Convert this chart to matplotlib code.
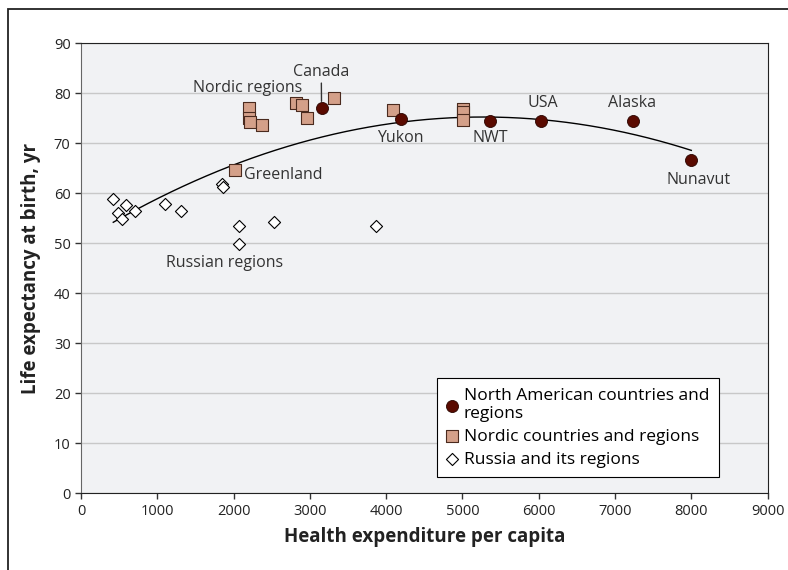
import matplotlib.pyplot as plt
import matplotlib.patches as patches
import numpy as np

plt.rcParams['font.family'] = ['Open Sans', 'DejaVu Sans']

# North American countries and regions
na_names = ['Canada', 'Yukon', 'NWT', 'USA', 'Alaska', 'Nunavut']
na_x = [3153, 4192, 5358, 6036, 7236, 8001]
na_y = [77.1, 74.8, 74.5, 74.5, 74.5, 66.6]

# Nordic countries and regions
nordic_x = [2197, 2197, 2218, 2367, 2817, 2891, 2965, 3323, 4092, 5009, 5009, 5009, 2022]
nordic_y = [77.0, 75.0, 74.3, 73.7, 78.0, 77.6, 75.0, 79.0, 76.6, 76.8, 76.2, 74.6, 64.7]

# Russia and its regions
russia_x = [423, 590, 481, 541, 711, 1097, 1306, 1843, 1856, 2074, 2066, 2528, 3865]
russia_y = [58.8, 57.7, 56.0, 54.9, 56.5, 57.9, 56.5, 61.8, 61.2, 53.5, 49.8, 54.2, 53.4]

x_ticks = [0, 1000, 2000, 3000, 4000, 5000, 6000, 7000, 8000, 9000]
y_ticks = [0, 10, 20, 30, 40, 50, 60, 70, 80, 90]

fig = plt.figure(figsize=(7.88, 5.7), dpi=100)
ax = fig.add_axes([81/788, 1-493.3/570, 686.5/788, 450/570])
ax.set_facecolor('#f1f2f4')

# outer frame (only top and left edges show)
fig.patches.append(patches.Rectangle((8/788, -0.1), 1.2, 1-9/570+0.1,
                                     transform=fig.transFigure, fill=False,
                                     edgecolor='#222222', linewidth=1.3))

ax.grid(axis='y', color='#c8c8c8', linewidth=1)
ax.set_axisbelow(True)

# polynomial trend line through all points
all_x = np.array(na_x + nordic_x + russia_x)
all_y = np.array(na_y + nordic_y + russia_y)
coef = np.polyfit(all_x, all_y, 2)
tx = np.linspace(all_x.min(), all_x.max(), 200)
ax.plot(tx, np.polyval(coef, tx), color='black', linewidth=1, zorder=2)

ax.scatter(russia_x, russia_y, marker='D', s=38, facecolor='white',
           edgecolor='black', linewidth=0.8, zorder=3, label='Russia and its regions')
ax.scatter(nordic_x, nordic_y, marker='s', s=80, facecolor='#d4a089',
           edgecolor='#4a2a1e', linewidth=0.8, zorder=3, label='Nordic countries and regions')
ax.scatter(na_x, na_y, marker='o', s=75, facecolor='#5a0a00',
           edgecolor='#2a0500', linewidth=0.6, zorder=4,
           label='North American countries and\nregions')

fs = 11.5
tc = '#333333'
ax.annotate('Canada', xy=(3153, 78.4), xytext=(3150, 82.6), ha='center', va='bottom',
            fontsize=fs, color=tc,
            arrowprops=dict(arrowstyle='-', color=tc, linewidth=1,
                            shrinkA=0, shrinkB=0))
ax.text(2188, 81.1, 'Nordic regions', ha='center', va='center', fontsize=fs, color=tc)
ax.text(4192, 71.1, 'Yukon', ha='center', va='center', fontsize=fs, color=tc)
ax.text(5371, 71.1, 'NWT', ha='center', va='center', fontsize=fs, color=tc)
ax.text(6053, 78.1, 'USA', ha='center', va='center', fontsize=fs, color=tc)
ax.text(7219, 78.1, 'Alaska', ha='center', va='center', fontsize=fs, color=tc)
ax.text(8097, 62.7, 'Nunavut', ha='center', va='center', fontsize=fs, color=tc)
ax.text(2140, 63.7, 'Greenland', ha='left', va='center', fontsize=fs, color=tc)
ax.text(1887, 46.1, 'Russian regions', ha='center', va='center', fontsize=fs, color=tc)

ax.set_xlim(0, 9000)
ax.set_ylim(0, 90)
ax.set_xticks(x_ticks)
ax.set_yticks(y_ticks)
ax.tick_params(direction='out', length=4, width=1, color='#333333',
               labelsize=10.5, labelcolor='#222222')
for side in ['top', 'right', 'bottom']:
    ax.spines[side].set_color('#222222')
ax.spines['left'].set_color('#666666')

ax.set_xlabel('Health expenditure per capita', fontsize=13.5, fontweight='bold',
              color='#222222', labelpad=6)
ax.set_ylabel('Life expectancy at birth, yr', fontsize=13.5, fontweight='bold',
              color='#222222', labelpad=9)

h, l = ax.get_legend_handles_labels()
leg = ax.legend(h[::-1], l[::-1], loc='lower left', bbox_to_anchor=(0.5186, 0.036),
                borderaxespad=0, fancybox=False, edgecolor='black', framealpha=1,
                fontsize=12.5, handlelength=0.6, handletextpad=0.4, labelspacing=0.38,
                borderpad=0.55)
leg.get_frame().set_linewidth(0.8)

fig.savefig('out.png', dpi=100)
